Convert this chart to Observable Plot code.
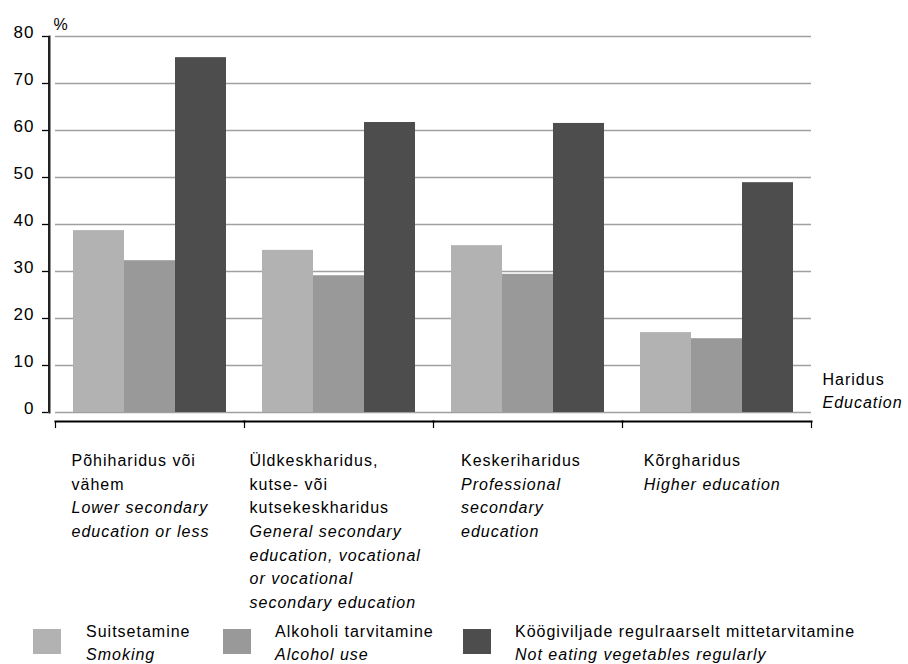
<!DOCTYPE html>
<html><head><meta charset="utf-8">
<script src="https://cdn.jsdelivr.net/npm/d3@7"></script>
<script src="https://cdn.jsdelivr.net/npm/@observablehq/plot@0.6"></script>
<style>
body{margin:0;background:#fff;font-family:'Liberation Sans',Arial,sans-serif;}
#chart svg text{letter-spacing:1px;}
#legend{position:relative;width:908px;height:46px;font-size:16px;letter-spacing:1px;line-height:23px;color:#000;}
.sw{position:absolute;top:11px;width:28px;height:25px;}
.lt{position:absolute;top:2px;white-space:nowrap;}
.lt i{display:block;}
</style></head><body>
<div id="chart"></div><div id="legend"></div>
<script>
const groups = ["Põhiharidus või vähem", "Üldkeskharidus, kutse- või kutsekeskharidus", "Keskeriharidus", "Kõrgharidus"];
const groupLabelEt = ["Põhiharidus või\nvähem", "Üldkeskharidus,\nkutse- või\nkutsekeskharidus", "Keskeriharidus", "Kõrgharidus"];
const groupLabelEn = ["Lower secondary\neducation or less", "General secondary\neducation, vocational\nor vocational\nsecondary education", "Professional\nsecondary\neducation", "Higher education"];
const seriesEt = ["Suitsetamine", "Alkoholi tarvitamine", "Köögiviljade regulraarselt mittetarvitamine"];
const seriesEn = ["Smoking", "Alcohol use", "Not eating vegetables regularly"];
const smoking = [38.7, 34.5, 35.5, 17.0];
const alcohol = [32.3, 29.1, 29.4, 15.7];
const vegetables = [75.5, 61.7, 61.5, 48.9];
const yTicks = [0, 10, 20, 30, 40, 50, 60, 70, 80];
const axisTitleEt = "Haridus", axisTitleEn = "Education", unit = "%";
const colors = ["#b2b2b2", "#999999", "#4d4d4d"];

const values = [smoking, alcohol, vegetables];
const rows = groups.flatMap((g, i) => seriesEt.map((s, j) => ({group: g, series: s, value: values[j][i]})));

// layout
const W = 908, H = 618, mL = 54, mR = 96, mT = 36, mB = 206;
const facetW = (W - mL - mR) / groups.length;
const axisGap = 6, tickLen = 7, axisW = 2;

const labelDx = [16, 5, 27.5, 21.3];
const nbsp = "\u00a0";
const labelMarks = groups.flatMap((g, i) => {
  const et = groupLabelEt[i];
  const nEt = et.split("\n").length;
  const en = Array(nEt).fill(nbsp).join("\n") + "\n" + groupLabelEn[i];
  const common = {fx: d => d, frameAnchor: "bottom-left", textAnchor: "start", lineAnchor: "top",
    dx: labelDx[i], dy: 36.6, lineHeight: 1.48, fontSize: 16, fill: "black"};
  return [
    Plot.text([g], {...common, text: () => et}),
    Plot.text([g], {...common, text: () => en, fontStyle: "italic"})
  ];
});

const firstFacet = () => groups[0];
const lastFacet = () => groups[groups.length - 1];

const chart = Plot.plot({
  width: W, height: H,
  marginTop: mT, marginBottom: mB, marginLeft: mL, marginRight: mR,
  style: {fontFamily: "'Liberation Sans', Arial, sans-serif", fontSize: "16px", color: "black", background: "white"},
  fx: {domain: groups, padding: 0, axis: null},
  x: {domain: seriesEt, paddingInner: 0, paddingOuter: 0.33, axis: null},
  y: {domain: [0, 80], axis: null},
  color: {domain: seriesEt, range: colors},
  marks: [
    Plot.ruleY(yTicks, {stroke: "#a0a0a0", strokeWidth: 1.3}),
    Plot.barY(rows, {fx: "group", x: "series", y: "value", fill: "series"}),
    // y axis line at the left edge of the first facet, shifted out of the frame
    Plot.barY([0], {fx: firstFacet, x: null, y1: 0, y2: 80, insetRight: facetW - axisW, dx: -axisGap - axisW / 2, fill: "#222"}),
    Plot.frame({anchor: "left", dx: -axisGap, stroke: "#222", strokeWidth: axisW, facetAnchor: "left"}),
    // y axis ticks
    Plot.tickY(yTicks, {fx: firstFacet, y: d => d, insetRight: facetW - tickLen, dx: -axisGap - tickLen, stroke: "black", strokeWidth: 1.3}),
    // y tick labels
    Plot.text(yTicks, {fx: firstFacet, y: d => d, text: d => String(d), frameAnchor: "left", textAnchor: "end", dx: -axisGap - tickLen - 8, dy: -3.5, fontSize: 17, fill: "black"}),
    // bottom category axis
    Plot.frame({anchor: "bottom", dx: 0, dy: 9, stroke: "black", strokeWidth: 2}),
    Plot.frame({anchor: "left", dx: 0, dy: 0, insetTop: 385, insetBottom: -15, stroke: "black", strokeWidth: 1.2}),
    Plot.frame({anchor: "right", dx: 0, dy: 0, insetTop: 385, insetBottom: -15, stroke: "black", strokeWidth: 1.2, facetAnchor: "right"}),
    Plot.text([unit], {fx: firstFacet, text: d => d, frameAnchor: "top-left", textAnchor: "start", dx: -2, dy: -18, fontSize: 16, fill: "black"}),
    Plot.text([axisTitleEt], {fx: lastFacet, text: d => d, frameAnchor: "bottom-right", textAnchor: "start", dx: 11, dy: -28, fontSize: 16, fill: "black"}),
    Plot.text([axisTitleEn], {fx: lastFacet, text: d => d, frameAnchor: "bottom-right", textAnchor: "start", dx: 11, dy: -4.8, fontSize: 16, fontStyle: "italic", fill: "black"}),
    ...labelMarks
  ]
});
document.getElementById("chart").appendChild(chart);

const legendSwatchX = [33, 222.5, 463];
const legendTextX = [86, 275, 515];
const legend = document.getElementById("legend");
seriesEt.forEach((s, j) => {
  const sw = document.createElement("div");
  sw.className = "sw";
  sw.style.left = legendSwatchX[j] + "px";
  sw.style.background = colors[j];
  legend.appendChild(sw);
  const t = document.createElement("div");
  t.className = "lt";
  t.style.left = legendTextX[j] + "px";
  t.textContent = s;
  const it = document.createElement("i");
  it.textContent = seriesEn[j];
  t.appendChild(it);
  legend.appendChild(t);
});
</script></body></html>
